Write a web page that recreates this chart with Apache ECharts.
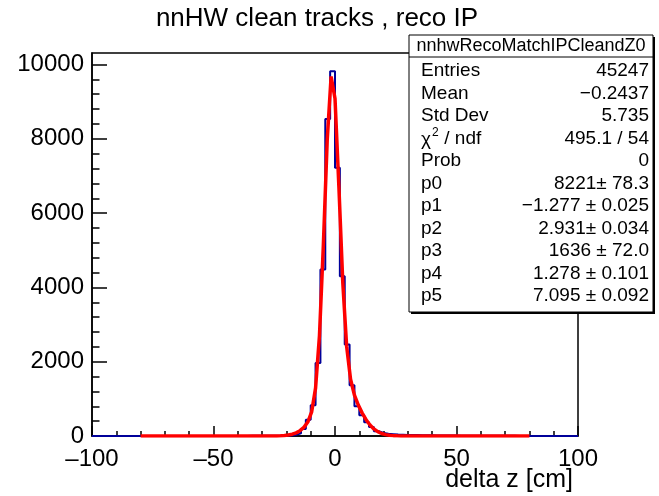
<!DOCTYPE html>
<html><head><meta charset="utf-8">
<script src="https://cdn.jsdelivr.net/npm/echarts@6/dist/echarts.min.js"></script>
<style>html,body{margin:0;padding:0;background:#fff}#c{width:659px;height:496px}</style>
</head><body><div id="c"></div>
<script>
// ---- data ----
const titleText = 'nnHW clean tracks , reco IP';
const xTitle = 'delta z [cm]';
const xMin = -100, xMax = 100, binWidth = 2;
const binCounts = [
  0,0,0,0,0,0,0,0,0,0,
  0,0,0,0,0,0,0,0,0,0,
  0,0,0,0,0,0,0,0,0,0,
  3,3,4,4,5,6,7,8,10,12,
  15,30,70,190,440,825,1965,4480,8533,9820,
  7222,4300,2460,1365,800,560,370,240,130,80,
  60,50,40,35,30,28,25,22,20,18,
  16,15,14,12,11,10,9,9,8,7,
  7,6,6,5,5,4,4,3,3,3,
  0,0,0,0,0,0,0,0,0,0
];
const fitX = [-80,-24,-22.4,-20.8,-19.2,-17.6,-16,-14.4,-12.8,-11.2,-9.6,-8,-6.4,-4.8,-3.2,-1.6,0,1.6,3.2,4.8,6.4,8,9.6,11.2,12.8,14.4,16,17.6,19.2,20.8,22.4,24,25.6,27.2,28.8,80];
const fitY = [0,3,6,13,25,48,84,143,232,375,651,1288,2696,5126,7970,9678,9087,6712,4137,2405,1527,1099,831,616,438,296,190,116,67,37,20,10,5,2,1,0];
const yMax = 10310;
const yMajorTicks = [0,2000,4000,6000,8000,10000];
const yMinorTicks = [400,800,1200,1600,2400,2800,3200,3600,4400,4800,5200,5600,6400,6800,7200,7600,8400,8800,9200,9600];
const statName = 'nnhwRecoMatchIPCleandZ0';
const statLabels = ['Entries','Mean','Std Dev','CHI2','Prob','p0','p1','p2','p3','p4','p5'];
const statValues = ['45247','\u22120.2437','5.735','495.1 / 54','0','8221\u00b1 78.3','\u22121.277 \u00b1 0.025','2.931\u00b1 0.034','1636 \u00b1 72.0','1.278 \u00b1 0.101','7.095 \u00b1 0.092'];

// ---- build ----
const histData = [];
for (let i = 0; i < binCounts.length; i++) histData.push([xMin + i * binWidth, binCounts[i]]);
histData.push([xMin + binCounts.length * binWidth, binCounts[binCounts.length - 1]]);
const fitData = fitX.map((x, i) => [x, fitY[i]]);

const FONT = '"Liberation Sans", Arial, Helvetica, sans-serif';
const G = {left: 92, right: 578, top: 53, bottom: 436};
const box = {x: 409, y: 35, w: 244, h: 277};
const graphics = [];
graphics.push({type: 'text', z: 100, style: {text: titleText, x: 317, y: 19, textAlign: 'center', textVerticalAlign: 'middle', fontSize: 26, fontFamily: FONT, fill: '#000'}});
graphics.push({type: 'text', z: 100, style: {text: xTitle, x: 573, y: 480, textAlign: 'right', textVerticalAlign: 'middle', fontSize: 25, fontFamily: FONT, fill: '#000'}});
// stats box
graphics.push({type: 'rect', z: 100, shape: {x: box.x + 2, y: box.y + 2, width: box.w, height: box.h}, style: {fill: '#000'}});
graphics.push({type: 'rect', z: 101, shape: {x: box.x, y: box.y, width: box.w, height: box.h}, style: {fill: '#fff', stroke: '#000', lineWidth: 1}});
graphics.push({type: 'line', z: 102, shape: {x1: box.x, y1: 57, x2: box.x + box.w, y2: 57}, style: {stroke: '#000', lineWidth: 1}});
graphics.push({type: 'text', z: 102, style: {text: statName, x: box.x + box.w / 2, y: 46.5, textAlign: 'center', textVerticalAlign: 'middle', fontSize: 18, fontFamily: FONT, fill: '#000'}});
const rowY0 = 71, rowDy = 22.5;
statLabels.forEach((lab, i) => {
  const y = rowY0 + i * rowDy;
  if (lab === 'CHI2') {
    graphics.push({type: 'text', z: 102, style: {text: '\u03c7', x: 421, y: y + 1, textAlign: 'left', textVerticalAlign: 'middle', fontSize: 19, fontFamily: FONT, fill: '#000'}});
    graphics.push({type: 'text', z: 102, style: {text: '2', x: 432, y: y - 6, textAlign: 'left', textVerticalAlign: 'middle', fontSize: 12, fontFamily: FONT, fill: '#000'}});
    graphics.push({type: 'text', z: 102, style: {text: ' / ndf', x: 439, y: y, textAlign: 'left', textVerticalAlign: 'middle', fontSize: 19, fontFamily: FONT, fill: '#000'}});
  } else {
    graphics.push({type: 'text', z: 102, style: {text: lab, x: 421, y: y, textAlign: 'left', textVerticalAlign: 'middle', fontSize: 19, fontFamily: FONT, fill: '#000'}});
  }
  graphics.push({type: 'text', z: 102, style: {text: statValues[i], x: 649, y: y, textAlign: 'right', textVerticalAlign: 'middle', fontSize: 19, fontFamily: FONT, fill: '#000'}});
});

const chart = echarts.init(document.getElementById('c'), null, {renderer: 'canvas'});
chart.setOption({
  animation: false,
  backgroundColor: '#fff',
  grid: {left: G.left, top: G.top, width: G.right - G.left, height: G.bottom - G.top, show: true, borderColor: '#000', borderWidth: 1.5, backgroundColor: 'transparent', containLabel: false},
  xAxis: {
    type: 'value', min: xMin, max: xMax, interval: 50,
    axisLine: {onZero: false, lineStyle: {color: '#000', width: 1.5}},
    axisTick: {inside: true, length: 10, lineStyle: {color: '#000', width: 1.5}},
    minorTick: {show: true, splitNumber: 5, length: 5, lineStyle: {color: '#000', width: 1.5}},
    splitLine: {show: false},
    axisLabel: {color: '#000', fontSize: 24, fontFamily: FONT, margin: 11, formatter: v => v < 0 ? '\u2013' + Math.abs(v) : String(v)}
  },
  yAxis: [{
    type: 'value', min: 0, max: yMax, position: 'left',
    axisLine: {show: true, onZero: false, lineStyle: {color: '#000', width: 1.5}},
    axisTick: {inside: true, length: 15, customValues: yMajorTicks, lineStyle: {color: '#000', width: 1.5}},
    splitLine: {show: false},
    axisLabel: {color: '#000', fontSize: 24, fontFamily: FONT, margin: 8, customValues: yMajorTicks, formatter: v => String(v)}
  }, {
    type: 'value', min: 0, max: yMax, position: 'left', offset: 0,
    axisLine: {show: false, onZero: false},
    axisTick: {show: true, inside: true, length: 7.5, customValues: yMinorTicks, lineStyle: {color: '#000', width: 1.5}},
    splitLine: {show: false},
    axisLabel: {show: false}
  }],
  series: [{
    type: 'line', step: 'end', data: histData, symbol: 'none', yAxisIndex: 0,
    lineStyle: {color: '#00009a', width: 2}, z: 2
  }, {
    type: 'line', data: fitData, symbol: 'none', yAxisIndex: 0,
    lineStyle: {color: '#ff0000', width: 3.5}, z: 3
  }],
  graphic: {elements: graphics}
});
</script>
</body></html>
